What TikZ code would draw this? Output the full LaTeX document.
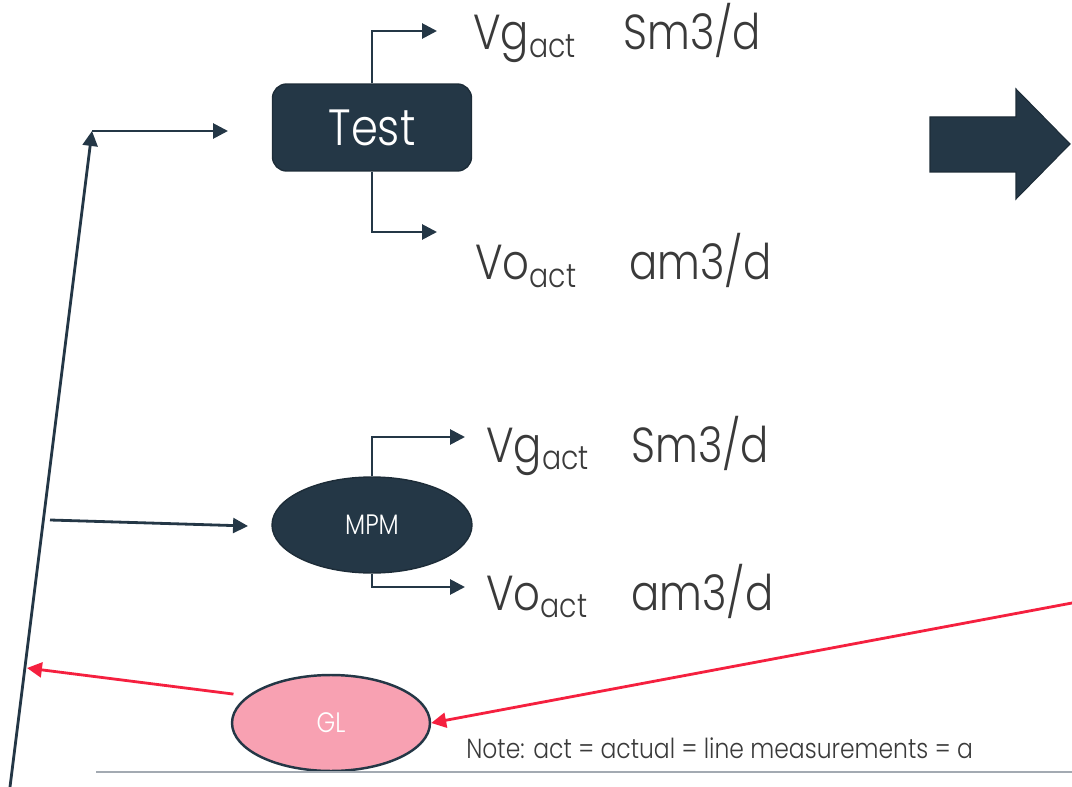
\documentclass[tikz,border=0pt]{standalone}
\usepackage{fontspec}
\setmainfont{Poppins Light}[FakeStretch=0.85]
\usetikzlibrary{arrows.meta,shapes.geometric}
\definecolor{navy}{HTML}{243746}
\definecolor{alert}{HTML}{F5203F}
\definecolor{blush}{HTML}{F8A1B2}
\definecolor{ink}{HTML}{3A3A3A}
\definecolor{rule}{HTML}{A3AAB2}
\newcommand\actsub{\raisebox{-4.5pt}{\fontsize{19}{19}\selectfont act}}
\tikzset{
  flow/.style={draw=navy, line width=1.6pt, -{Triangle[length=8.5pt,width=8.5pt]}},
  redflow/.style={draw=alert, line width=1.6pt, -{Triangle[length=8.5pt,width=8.5pt]}},
  bigtext/.style={text=ink, anchor=base west, inner sep=0pt, font=\fontsize{28}{28}\selectfont},
  testbox/.style={rectangle, rounded corners=8pt, fill=navy, draw=navy!80!black, line width=0.8pt,
    minimum width=3.98cm, minimum height=1.74cm, text=white, font=\fontsize{29}{29}\selectfont},
  mpmnode/.style={ellipse, fill=navy, draw=navy!80!black, line width=0.8pt, inner sep=0pt,
    minimum width=4cm, minimum height=1.92cm, text=white, font=\fontsize{16}{16}\selectfont},
  glnode/.style={ellipse, fill=blush, draw=navy, line width=1.4pt, inner sep=0pt,
    minimum width=3.96cm, minimum height=1.92cm, text=white, font=\fontsize{16}{16}\selectfont},
}
\begin{document}
\begin{tikzpicture}[x=0.02cm,y=-0.02cm]
\useasboundingbox (0,0) rectangle (1072,787);

% process blocks
\node[testbox] (test) at (372,127.5) {Test};
\node[mpmnode] (mpm) at (372,525) {MPM};
\node[glnode] (gl) at (331,723) {GL};

% output labels
\node[bigtext] (vg1) at (473,50) {Vg\actsub};
\node[bigtext] (u1) at (623,50) {Sm3/d};
\node[bigtext] (vo1) at (475,280) {Vo\actsub};
\node[bigtext] (u2) at (629,280) {am3/d};
\node[bigtext] (vg2) at (486,462) {Vg\actsub};
\node[bigtext] (u3) at (631,462) {Sm3/d};
\node[bigtext] (vo2) at (486,610) {Vo\actsub};
\node[bigtext] (u4) at (631,610) {am3/d};

\node[text=ink, anchor=base west, inner sep=0pt, font=\fontsize{15.7}{15.7}\selectfont] (note) at (466,758)
  {Note: act = actual = line measurements = a};

% connector ends
\coordinate (tg) at (437,31);
\coordinate (to) at (437,232);
\coordinate (mg) at (465,437);
\coordinate (mo) at (465,587);
\coordinate (well) at (10,787);
\coordinate (corner) at (92,131);
\coordinate (testin) at (228,131);
\coordinate (tap) at (50,520);
\coordinate (mpmin) at (248,526);
\coordinate (lift) at (27,668);
\coordinate (feed) at (1072,603);
\coordinate (r1) at (96,772);
\coordinate (r2) at (1072,772);

% outputs of the test separator and the meter
\draw[flow] (test.north) |- (tg);
\draw[flow] (test.south) |- (to);
\draw[flow] (mpm.north) |- (mg);
\draw[flow] (mpm.south) |- (mo);

% well stream routing
\draw[flow] (well) -- (corner);
\draw[flow] (corner) -- (testin);
\draw[flow] (tap) -- (mpmin);

% gas lift loop
\draw[redflow, shorten <=8pt] (gl.162) -- (lift);
\draw[redflow] (feed) -- (gl.east);

% bottom rule
\draw[rule, line width=1pt] (r1) -- (r2);

% block arrow
\fill[navy, draw=navy!80!black, line width=0.6pt]
  (930,117) -- (1016,117) -- (1016,89) -- (1070,144) -- (1016,199) -- (1016,172) -- (930,172) -- cycle;
\end{tikzpicture}
\end{document}
